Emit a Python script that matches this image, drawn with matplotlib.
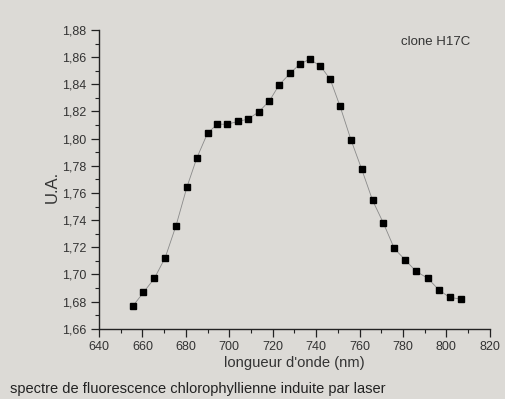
import numpy as np
import matplotlib.pyplot as plt
from matplotlib.ticker import MultipleLocator, FuncFormatter

plt.rcParams['font.family'] = ['Liberation Sans', 'DejaVu Sans']

# wavelength (nm) and fluorescence intensity (U.A.)
wavelength = [655.5, 660.5, 665.5, 670.5, 675.5, 680.5, 685, 690, 694.5, 699,
              704, 708.5, 713.5, 718.5, 723, 728, 732.5, 737, 742, 746.5,
              751, 756, 761, 766, 771, 776, 781, 786, 791.5, 796.5,
              801.5, 806.5]
intensity = [1.6765, 1.6868, 1.6971, 1.7124, 1.7360, 1.7643, 1.7855, 1.8040,
             1.8106, 1.8106, 1.8126, 1.8143, 1.8195, 1.8278, 1.8396, 1.8480,
             1.8549, 1.8584, 1.8534, 1.8436, 1.8239, 1.7993, 1.7774, 1.7545,
             1.7377, 1.7191, 1.7107, 1.7023, 1.6971, 1.6886, 1.6831, 1.6819]

paper = '#dcdad6'
ink = '#333333'

fig = plt.figure(figsize=(5.05, 3.99), dpi=100, facecolor=paper)
ax = fig.add_axes([0.196, 0.176, 0.774, 0.749], facecolor=paper)

ax.plot(wavelength, intensity, color='#8a8a8a', linewidth=0.6, zorder=1)
ax.plot(wavelength, intensity, linestyle='none', marker='s', markersize=4.8,
        color='black', zorder=2)

ax.set_xlim(640, 820)
ax.set_ylim(1.66, 1.88)
ax.xaxis.set_major_locator(MultipleLocator(20))
ax.xaxis.set_minor_locator(MultipleLocator(10))
ax.yaxis.set_major_locator(MultipleLocator(0.02))
ax.yaxis.set_minor_locator(MultipleLocator(0.01))
ax.yaxis.set_major_formatter(FuncFormatter(lambda v, p: f'{v:.2f}'.replace('.', ',')))

for s in ['top', 'right']:
    ax.spines[s].set_visible(False)
for s in ['left', 'bottom']:
    ax.spines[s].set_color('#222222')
    ax.spines[s].set_linewidth(1.0)

ax.tick_params(which='major', direction='out', length=6, width=0.9,
               colors='#222222', labelsize=9, labelcolor=ink, pad=3)
ax.tick_params(which='minor', direction='out', length=3, width=0.8,
               colors='#222222')

ax.set_xlabel("longueur d'onde (nm)", fontsize=10.6, color=ink, va='center')
ax.xaxis.set_label_coords(0.5, -0.114)
ax.set_ylabel('U.A.', fontsize=12, color=ink, va='center')
ax.yaxis.set_label_coords(-0.12, 0.473)

ax.text(0.86, 0.96, 'clone H17C', transform=ax.transAxes, fontsize=9.5,
        color=ink, ha='center', va='center')

fig.text(0.02, 0.025, 'spectre de fluorescence chlorophyllienne induite par laser',
         fontsize=10.5, color='#222222', ha='left', va='center')

fig.savefig('out.png', dpi=100, facecolor=paper)
